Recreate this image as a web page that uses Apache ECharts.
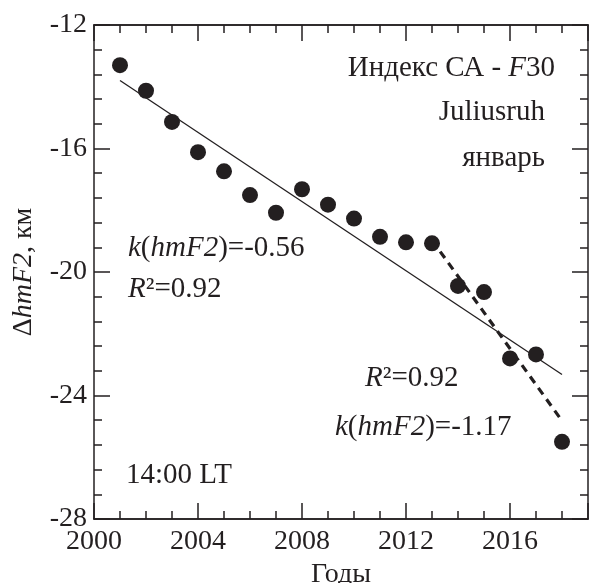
<!DOCTYPE html>
<html>
<head>
<meta charset="utf-8">
<script src="https://cdn.jsdelivr.net/npm/echarts@6/dist/echarts.min.js"></script>
<style>
  html, body { margin: 0; padding: 0; background: #fff; }
  #chart { width: 590px; height: 583px; }
</style>
</head>
<body>
<div id="chart"></div>
<script>
// Yearly ΔhmF2 values (km), Juliusruh, January, 14:00 LT
const years = [2001, 2002, 2003, 2004, 2005, 2006, 2007, 2008, 2009,
               2010, 2011, 2012, 2013, 2014, 2015, 2016, 2017, 2018];
const dHmF2 = [-13.3, -14.13, -15.14, -16.12, -16.74, -17.51, -18.08, -17.32, -17.82,
               -18.27, -18.86, -19.04, -19.07, -20.45, -20.65, -22.8, -22.67, -25.5];

// Linear trends: whole interval (k = -0.56) and 2013–2018 (k = -1.17)
const trendAll = [[2001, -13.8], [2018, -23.32]];
const trendLate = [[2013, -18.97], [2018, -24.82]];

const xRange = [2000, 2019];
const yRange = [-28, -12];

const FONT = '"Liberation Serif", "Times New Roman", serif';
const INK = '#231f20';
const FS = 28;   // axis text
const FA = 29;   // annotations inside the plot

const points = years.map((y, i) => [y, dHmF2[i]]);

const chart = echarts.init(document.getElementById('chart'));

function xAxisDef(position, interval, tickLen, showLabels) {
  return {
    type: 'value', position: position, min: xRange[0], max: xRange[1], interval: interval,
    axisLine: { show: true, onZero: false, lineStyle: { color: INK, width: 1.5 } },
    axisTick: { show: true, inside: true, length: tickLen, lineStyle: { color: INK, width: 1.5 } },
    axisLabel: {
      show: showLabels, margin: 9, showMaxLabel: false,
      fontFamily: FONT, fontSize: FS, color: INK,
      formatter: v => (v % 4 === 0 ? String(v) : '')
    },
    splitLine: { show: false }
  };
}

function yAxisDef(position, showLabels) {
  return {
    type: 'value', position: position, min: yRange[0], max: yRange[1], interval: 4,
    axisLine: { show: true, onZero: false, lineStyle: { color: INK, width: 1.5 } },
    axisTick: { show: true, inside: true, length: 16, lineStyle: { color: INK, width: 1.5 } },
    minorTick: { show: true, splitNumber: 5, length: 8, lineStyle: { color: INK, width: 1.5 } },
    axisLabel: { show: showLabels, margin: 7, fontFamily: FONT, fontSize: FS, color: INK },
    splitLine: { show: false }
  };
}

const xAxes = [
  xAxisDef('bottom', 1, 8, true),
  xAxisDef('bottom', 4, 16, false),
  xAxisDef('top', 1, 8, false),
  xAxisDef('top', 4, 16, false)
];
xAxes[0].name = 'Годы';
xAxes[0].nameLocation = 'middle';
xAxes[0].nameGap = 40;
xAxes[0].nameTextStyle = { fontFamily: FONT, fontSize: FS, color: INK };

const yAxes = [yAxisDef('left', true), yAxisDef('right', false)];
yAxes[0].name = '{n|Δ}{i|hmF2}{n|, км}';
yAxes[0].nameLocation = 'middle';
yAxes[0].nameGap = 56;
yAxes[0].nameTextStyle = {
  rich: {
    n: { fontFamily: FONT, fontSize: FS, color: INK },
    i: { fontFamily: FONT, fontSize: FS, fontStyle: 'italic', color: INK }
  }
};

const rich = {
  n: { fontFamily: FONT, fontSize: FA, color: INK },
  i: { fontFamily: FONT, fontSize: FA, fontStyle: 'italic', color: INK }
};

function label(x, y, text, align) {
  return {
    type: 'text', x: x, y: y, z: 10,
    style: { text: text, rich: rich, align: align || 'left', verticalAlign: 'middle',
             font: FA + 'px ' + FONT, fill: INK }
  };
}

chart.setOption({
  animation: false,
  backgroundColor: '#fff',
  grid: { left: 94, top: 25, right: 2, bottom: 64, containLabel: false, outerBoundsMode: 'none' },
  xAxis: xAxes,
  yAxis: yAxes,
  series: [
    {
      type: 'line', data: trendAll, xAxisIndex: 0, yAxisIndex: 0,
      symbol: 'none', lineStyle: { color: INK, width: 1.3 }, z: 2, silent: true
    },
    {
      type: 'line', data: trendLate, xAxisIndex: 0, yAxisIndex: 0,
      symbol: 'none', lineStyle: { color: INK, width: 3.2, type: [8, 6] }, z: 2, silent: true
    },
    {
      type: 'scatter', data: points, xAxisIndex: 0, yAxisIndex: 0,
      symbol: 'circle', symbolSize: 16, itemStyle: { color: INK, opacity: 1 }, z: 5
    }
  ],
  graphic: [
    label(555, 68, '{n|Индекс СА - }{i|F}{n|30}', 'right'),
    label(545, 112, '{n|Juliusruh}', 'right'),
    label(545, 158, '{n|январь}', 'right'),
    label(128, 248, '{i|k}{n|(}{i|hmF2}{n|)=-0.56}'),
    label(128, 289, '{i|R}{n|²=0.92}'),
    label(365, 378, '{i|R}{n|²=0.92}'),
    label(335, 427, '{i|k}{n|(}{i|hmF2}{n|)=-1.17}'),
    label(126, 475, '{n|14:00 LT}')
  ]
});
</script>
</body>
</html>
